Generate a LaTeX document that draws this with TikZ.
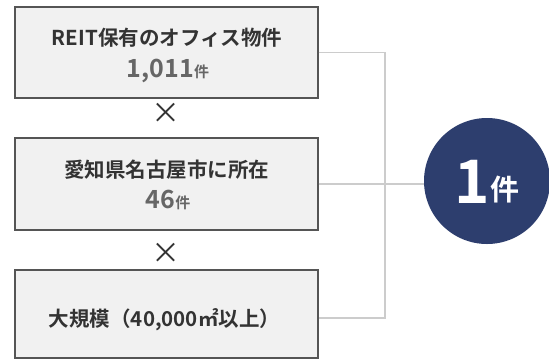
\documentclass[tikz,border=0pt]{standalone}
\usepackage{fontspec}
\setmainfont{Noto Sans CJK JP}[BoldFont={Noto Sans CJK JP Bold}]
\definecolor{boxfill}{HTML}{F1F1F1}
\definecolor{boxline}{HTML}{555555}
\definecolor{titletxt}{HTML}{333333}
\definecolor{numtxt}{HTML}{666666}
\definecolor{conn}{HTML}{CCCCCC}
\definecolor{navy}{HTML}{2D3E6E}
\begin{document}
\begin{tikzpicture}[x=1pt,y=-1pt,
  cbox/.style={draw=boxline,line width=1.2pt,fill=boxfill,minimum width=303pt,inner sep=0pt},
  ttl/.style={text=titletxt,font=\bfseries\fontsize{20.5}{24}\selectfont},
  num/.style={text=numtxt,font=\bfseries\fontsize{25}{28}\selectfont},
  times/.style={text=titletxt,font=\fontsize{29}{32}\selectfont},
  conn/.style={draw=conn,line width=1.2pt}]
\useasboundingbox (0,0) rectangle (549,360);
\node[cbox,minimum height=91pt] (b1) at (166.5,52.5) {};
\node[cbox,minimum height=92pt] (b2) at (166.5,184) {};
\node[cbox,minimum height=88pt] (b3) at (166.5,314) {};
\node[ttl] (t1) at (167,38) {REIT保有のオフィス物件};
\node[num] (n1) at (168,71) {1,011{\fontsize{15}{18}\selectfont 件}};
\node[ttl] (t2) at (166.5,170) {愛知県名古屋市に所在};
\node[num] (n2) at (168,199.5) {46{\fontsize{15}{18}\selectfont 件}};
\node[ttl] (t3) at (164.5,319.5) {大規模（40,000㎡以上）};
\node[times] (x1) at (166,113.5) {×};
\node[times] (x2) at (166,253) {×};
\node[circle,fill=navy,minimum size=126pt,inner sep=0pt] (c) at (487,181) {};
\node[text=white,font=\bfseries\fontsize{60}{64}\selectfont,anchor=base east,inner sep=0pt] (one) at (490,203) {1};
\node[text=white,font=\bfseries\fontsize{29}{32}\selectfont,anchor=base west,inner sep=0pt] (ken) at (490,200) {件};
\coordinate (j1) at (385,52.5);
\coordinate (j3) at (385,318);
\draw[conn] (b1.east) -- (j1) -- (j3) -- (b3.east |- j3);
\draw[conn] (b2.east) -- (c.west |- b2.east);
\end{tikzpicture}
\end{document}
